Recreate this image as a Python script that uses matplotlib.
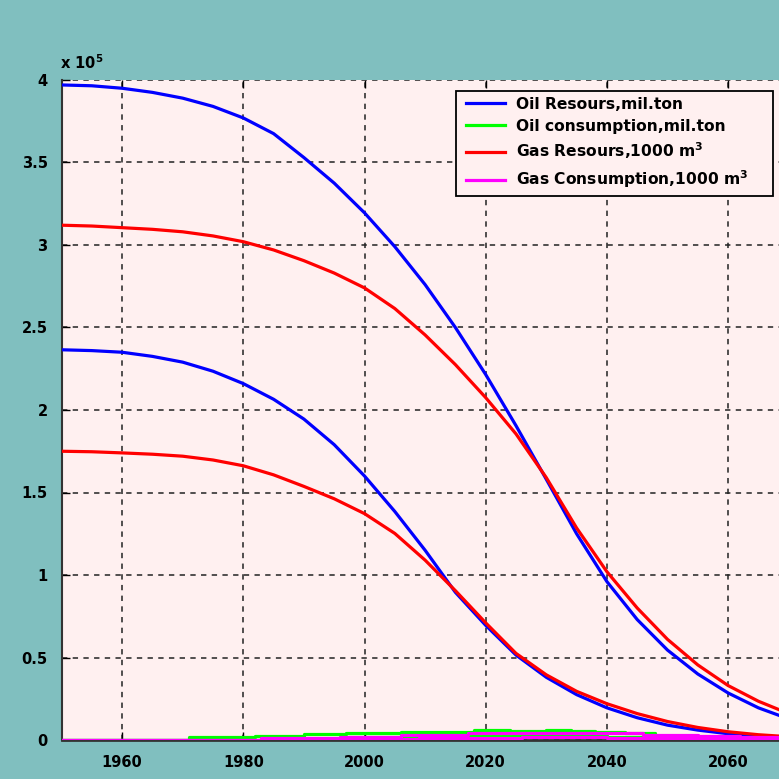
import matplotlib
matplotlib.use("Agg")
import matplotlib.pyplot as plt
import numpy as np
from matplotlib.ticker import FuncFormatter
from matplotlib.patches import Rectangle

plt.rcParams['font.family'] = ['DejaVu Sans']
plt.rcParams['font.weight'] = 'bold'
plt.rcParams['mathtext.fontset'] = 'dejavusans'
plt.rcParams['mathtext.default'] = 'bf'

# ---- data (values in units of 10^5) ----
years = [1950, 1955, 1960, 1965, 1970, 1975, 1980, 1985, 1990, 1995, 2000, 2005, 2010,
         2015, 2020, 2025, 2030, 2035, 2040, 2045, 2050, 2055, 2060, 2065, 2070, 2075]

oil_res_high = [3.970, 3.965, 3.950, 3.925, 3.890, 3.840, 3.770, 3.675, 3.530, 3.375, 3.195,
                2.990, 2.760, 2.500, 2.215, 1.905, 1.580, 1.250, 0.960, 0.730, 0.545, 0.400,
                0.285, 0.195, 0.128, 0.080]
gas_res_high = [3.120, 3.115, 3.105, 3.095, 3.080, 3.055, 3.020, 2.970, 2.905, 2.830, 2.740,
                2.615, 2.455, 2.275, 2.075, 1.855, 1.590, 1.285, 1.020, 0.800, 0.610, 0.455,
                0.330, 0.235, 0.160, 0.105]
oil_res_low = [2.365, 2.360, 2.350, 2.325, 2.290, 2.235, 2.160, 2.065, 1.945, 1.790, 1.600,
               1.385, 1.150, 0.895, 0.695, 0.515, 0.380, 0.275, 0.195, 0.135, 0.090, 0.060,
               0.038, 0.023, 0.013, 0.007]
gas_res_low = [1.750, 1.747, 1.740, 1.732, 1.720, 1.697, 1.662, 1.607, 1.537, 1.462, 1.372,
               1.252, 1.090, 0.905, 0.710, 0.525, 0.395, 0.295, 0.220, 0.160, 0.112, 0.076,
               0.050, 0.032, 0.020, 0.012]

# consumption (step curves)
oil_cons_hi_years = [1950, 1971, 1982, 1990, 1997, 2006, 2018, 2024, 2030, 2034, 2038,
                     2043, 2048, 2055, 2062, 2075]
oil_cons_high = [0.0, 0.018, 0.027, 0.035, 0.042, 0.050, 0.060, 0.057, 0.063, 0.057, 0.048,
                 0.040, 0.0, 0.012, 0.008, 0.005]
oil_cons_lo_years = [1950, 1983, 1996, 2006, 2017, 2026, 2034, 2040, 2048, 2055, 2062, 2075]
oil_cons_low = [0.0, 0.008, 0.016, 0.024, 0.030, 0.028, 0.024, 0.020, 0.015, 0.012, 0.010,
                0.006]
gas_cons_hi_years = [1950, 1983, 1996, 2006, 2017, 2022, 2046, 2055, 2062, 2075]
gas_cons_high = [0.0, 0.010, 0.020, 0.028, 0.040, 0.045, 0.030, 0.025, 0.020, 0.016]
gas_cons_lo_years = [1950, 2000, 2009, 2026, 2040, 2048, 2062, 2075]
gas_cons_low = [0.0, 0.004, 0.012, 0.018, 0.014, 0.010, 0.008, 0.006]

labels = ['Oil Resours,mil.ton', 'Oil consumption,mil.ton',
          'Gas Resours,1000 m$^3$', 'Gas Consumption,1000 m$^3$']
y_ticks = [0, 0.5, 1, 1.5, 2, 2.5, 3, 3.5, 4]
x_ticks = [1960, 1980, 2000, 2020, 2040, 2060]

SCALE = 1e5
BLUE, GREEN, RED, MAG = '#0000FF', '#00FF00', '#FF0000', '#FF00FF'
AX_BG = '#FFF0F0'

fig = plt.figure(figsize=(7.79, 7.79), dpi=100, facecolor='#80BFBF')
W = H = 779.0
left_px, right_px, top_px, bot_px = 61.5, 61.5 + 150 * 6.06, 80, 740
ax = fig.add_axes([left_px / W, 1 - bot_px / H, (right_px - left_px) / W, (bot_px - top_px) / H])
ax.set_facecolor(AX_BG)

y = lambda v: np.array(v) * SCALE
lw = 2.3
h1, = ax.plot(years, y(oil_res_high), color=BLUE, lw=lw, zorder=3)
h3, = ax.plot(years, y(gas_res_high), color=RED, lw=lw, zorder=3)
ax.plot(years, y(oil_res_low), color=BLUE, lw=lw, zorder=3)
ax.plot(years, y(gas_res_low), color=RED, lw=lw, zorder=3)
h2, = ax.plot(oil_cons_hi_years, y(oil_cons_high), color=GREEN, lw=lw,
              drawstyle='steps-post', zorder=3)
ax.plot(oil_cons_lo_years, y(oil_cons_low), color=GREEN, lw=lw, drawstyle='steps-post', zorder=3)
h4, = ax.plot(gas_cons_hi_years, y(gas_cons_high), color=MAG, lw=lw,
              drawstyle='steps-post', zorder=3)
ax.plot(gas_cons_lo_years, y(gas_cons_low), color=MAG, lw=lw, drawstyle='steps-post', zorder=3)

ax.set_xlim(1950, 2100)
ax.set_ylim(0, 4 * SCALE)
ax.set_xticks(x_ticks)
ax.set_yticks([t * SCALE for t in y_ticks])
ax.yaxis.set_major_formatter(FuncFormatter(lambda v, p: ('%g' % (v / SCALE))))
ax.tick_params(direction='in', length=6, width=1, labelsize=10.5, top=True, right=False,
               colors='black')
for lab in ax.get_xticklabels() + ax.get_yticklabels():
    lab.set_fontweight('bold')
ax.tick_params(axis='x', pad=11)
ax.tick_params(axis='y', pad=10)

ax.grid(True, color='#222222', linestyle=(0, (3.5, 3.5)), linewidth=1.1)
ax.spines['top'].set_visible(False)
ax.spines['right'].set_visible(False)
ax.spines['left'].set_linewidth(1.5)
ax.spines['bottom'].set_linewidth(2.0)
ax.spines['bottom'].set_color('#333333')
ax.spines['left'].set_color('#333333')

ax.text(-0.002, 1.012, r'x 10$^{5}$', transform=ax.transAxes, fontsize=10.5, fontweight='bold',
        ha='left', va='bottom')

# legend box (frame drawn separately to match the original's padding)
box = Rectangle((456 / W, 1 - 196 / H), (773 - 456) / W, (196 - 91) / H,
                transform=fig.transFigure, facecolor=AX_BG, edgecolor='black',
                linewidth=1.3, zorder=5, clip_on=False)
ax.add_patch(box)
leg = ax.legend([h1, h2, h3, h4], labels, loc='upper left',
                bbox_to_anchor=(461 / W, 1 - 92 / H), bbox_transform=fig.transFigure,
                borderaxespad=0, frameon=False, prop={'weight': 'bold', 'size': 11.2},
                handlelength=2.5, handletextpad=0.75, labelspacing=0.45, borderpad=0.3)
leg.set_zorder(6)

fig.savefig('out.png', dpi=100, facecolor=fig.get_facecolor())
